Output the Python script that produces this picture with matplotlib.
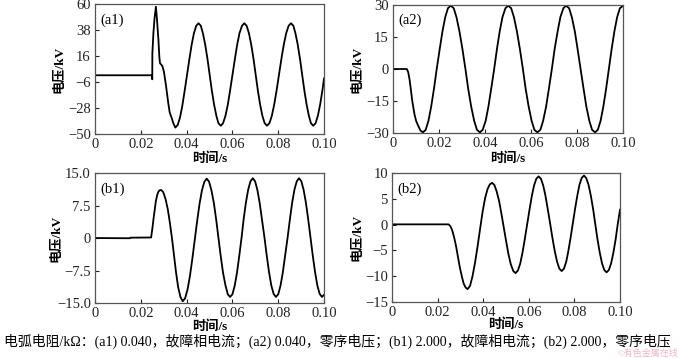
import matplotlib
matplotlib.use("Agg")
import matplotlib.pyplot as plt
import numpy as np

plt.rcParams['font.family'] = ['Liberation Serif', 'Noto Sans CJK SC']
plt.rcParams['axes.unicode_minus'] = True

# (a1) arc resistance 0.040 kOhm, faulted phase  -- time in ms, voltage in kV
a1_t = [0, 24.9, 25.0, 25.05, 25.5, 26.0, 26.6, 27.1, 27.7, 28.1, 28.4, 28.9, 29.4,
        30.1, 31.0, 32.0, 32.6, 33.0, 33.5, 34.2, 35.1,
        36.1, 37.1, 38.1, 39.1, 40.15, 41.2, 42.2, 43.2, 44.2, 45.2,
        46.2, 47.1, 48.1, 49.1, 50.05, 51.0, 52.0, 53.0, 53.9, 54.9,
        55.9, 56.96, 58.0, 59.0, 60.05, 61.1, 62.1, 63.1, 64.2, 65.2,
        66.2, 67.2, 68.2, 69.2, 70.15, 71.1, 72.1, 73.1, 74.1, 75.1,
        76.15, 77.2, 78.25, 79.3, 80.35, 81.4, 82.45, 83.5, 84.55, 85.6,
        86.6, 87.5, 88.5, 89.5, 90.45, 91.4, 92.4, 93.4, 94.3, 95.3,
        96.3, 97.3, 98.3, 99.3, 100.0]
a1_v = [-0.3, -0.3, -3.7, 18.3, 35.2, 48.0, 57.7, 46.0, 29.5, 15.0, 9.8, 8.8, 7.5,
        2.7, -9.0, -24.0, -31.5, -33.9, -36.5, -40.9, -44.6,
        -42.4, -36.2, -26.4, -14.1, -0.45, 13.2, 25.5, 35.3, 41.5, 43.7,
        41.6, 35.4, 25.8, 13.7, 0.35, -13.0, -25.1, -34.7, -40.9, -43.0,
        -40.9, -34.7, -25.1, -13.0, 0.35, 13.7, 25.8, 35.4, 41.6, 43.7,
        41.6, 35.4, 25.8, 13.7, 0.35, -13.0, -25.1, -34.7, -40.9, -43.0,
        -40.9, -34.7, -25.1, -13.0, 0.35, 13.7, 25.8, 35.4, 41.6, 43.7,
        41.6, 35.4, 25.8, 13.7, 0.35, -13.0, -25.1, -34.7, -40.9, -43.0,
        -40.9, -34.7, -25.1, -13.0, -3.0]

# (a2) arc resistance 0.040 kOhm, zero-sequence voltage
a2_t = [0, 6.0, 6.6, 7.2, 7.8, 8.3, 8.9, 9.4, 10.1, 10.9, 11.9, 13.0,
        14.2, 15.4, 16.6, 17.8, 19.0, 20.3, 21.5, 22.7, 23.9, 25.1,
        26.4, 27.6, 28.9, 30.2, 31.5, 32.7, 34.0, 35.3, 36.5, 37.8,
        39.0, 40.3, 41.5, 42.7, 44.0, 45.2, 46.4, 47.6, 48.9, 50.1,
        51.4, 52.6, 53.9, 55.2, 56.5, 57.7, 59.0, 60.3, 61.5, 62.8,
        64.1, 65.3, 66.6, 67.8, 69.1, 70.3, 71.6, 72.8, 74.1, 75.3,
        76.6, 77.8, 79.1, 80.3, 81.6, 82.9, 84.1, 85.4, 86.6, 87.9,
        89.1, 90.3, 91.5, 92.7, 93.9, 95.1, 96.3, 97.5, 98.7, 100.0]
a2_v = [0, 0, -1.5, -5.0, -10.0, -14.5, -18.5, -21.6, -24.5, -26.5, -28.8, -29.7,
        -28.5, -24.3, -17.6, -9.3, 0, 9.3, 17.6, 24.3, 28.5, 29.7,
        28.5, 24.3, 17.6, 9.3, 0, -9.3, -17.6, -24.3, -28.5, -29.7,
        -28.5, -24.3, -17.6, -9.3, 0, 9.3, 17.6, 24.3, 28.5, 29.7,
        28.5, 24.3, 17.6, 9.3, 0, -9.3, -17.6, -24.3, -28.5, -29.7,
        -28.5, -24.3, -17.6, -9.3, 0, 9.3, 17.6, 24.3, 28.5, 29.7,
        28.5, 24.3, 17.6, 9.3, 0, -9.3, -17.6, -24.3, -28.5, -29.7,
        -28.5, -24.3, -17.6, -9.3, 0, 9.3, 17.6, 24.3, 28.5, 29.6]

# (b1) arc resistance 2.000 kOhm, faulted phase
b1_t = [0, 5.0, 10.0, 15.2, 15.5, 24.5, 25.0, 25.5, 26.0, 26.6, 27.2, 27.7, 28.2, 28.8,
        29.8, 30.8, 31.8, 32.7, 33.6, 34.5, 35.4, 36.3, 37.3, 38.3,
        39.35, 40.4, 41.45, 42.5, 43.55, 44.6, 45.65, 46.7, 47.75, 48.8,
        49.8, 50.8, 51.9, 52.9, 53.9, 54.9, 55.9, 57.0, 58.0, 59.0,
        60.0, 61.0, 62.0, 63.0, 64.0, 64.9, 65.9, 66.9, 67.9, 68.9,
        69.9, 70.9, 71.9, 72.9, 74.0, 75.0, 76.0, 77.0, 78.0, 79.0,
        80.0, 81.0, 82.0, 83.0, 84.1, 85.1, 86.1, 87.1, 88.1, 89.1,
        90.1, 91.1, 92.1, 93.1, 94.1, 95.1, 96.1, 97.1, 98.1, 99.1, 100.0]
b1_v = [0.0, -0.02, -0.04, -0.05, 0.08, 0.12, 2.0, 4.2, 6.2, 8.6, 10.0, 10.7, 11.0, 11.1,
        10.6, 9.0, 6.6, 3.5, 0.0, -4.0, -8.0, -11.3, -13.6, -14.6,
        -13.9, -11.9, -8.8, -4.8, -0.45, 3.9, 7.9, 11.0, 13.0, 13.7,
        13.0, 11.1, 8.1, 4.3, 0.05, -4.2, -8.0, -11.0, -13.0, -13.6,
        -13.0, -11.0, -8.0, -4.1, 0.1, 4.3, 8.2, 11.2, 13.1, 13.8,
        13.1, 11.1, 8.1, 4.3, 0.1, -4.1, -7.9, -11.0, -12.9, -13.6,
        -13.0, -11.0, -8.0, -4.1, 0.1, 4.3, 8.2, 11.2, 13.1, 13.8,
        13.1, 11.1, 8.1, 4.3, 0.1, -4.1, -7.9, -11.0, -12.9, -13.6, -13.1]

# (b2) arc resistance 2.000 kOhm, zero-sequence voltage
b2_t = [0, 24.8, 25.6, 26.4, 27.2, 28.1, 28.9, 29.7, 30.6, 31.4, 32.3, 33.1,
        34.2, 35.3, 36.4, 37.5, 38.6, 39.7, 40.8, 41.9, 42.9, 43.9,
        44.9, 45.9, 47.0, 48.0, 49.05, 50.1, 51.1, 52.1, 53.2, 54.2,
        55.2, 56.2, 57.2, 58.2, 59.25, 60.3, 61.3, 62.3, 63.3, 64.3,
        65.3, 66.3, 67.3, 68.3, 69.35, 70.4, 71.4, 72.4, 73.4, 74.4,
        75.4, 76.4, 77.3, 78.3, 79.3, 80.3, 81.3, 82.2, 83.2, 84.2,
        85.2, 86.2, 87.2, 88.2, 89.15, 90.1, 91.1, 92.1, 93.1, 94.1,
        95.1, 96.1, 97.1, 98.1, 99.0, 100.0]
b2_v = [0.05, 0.05, -0.3, -1.1, -2.4, -4.2, -6.2, -8.2, -10.0, -11.4, -12.2, -12.5,
        -11.9, -10.0, -7.4, -4.3, -0.9, 2.4, 5.1, 6.9, 7.8, 8.1,
        7.67, 6.43, 4.5, 2.05, -0.65, -3.35, -5.8, -7.7, -9.0, -9.4,
        -8.9, -7.6, -5.5, -2.9, 0.0, 2.9, 5.5, 7.6, 8.9, 9.35,
        8.9, 7.6, 5.6, 3.0, 0.2, -2.7, -5.2, -7.2, -8.55, -9.0,
        -8.55, -7.2, -5.2, -2.6, 0.25, 3.1, 5.7, 7.7, 9.05, 9.5,
        9.0, 7.7, 5.6, 3.0, 0.1, -2.8, -5.4, -7.5, -8.8, -9.25,
        -8.8, -7.5, -5.4, -2.8, 0.1, 2.9]

x_ticks = [0, 0.02, 0.04, 0.06, 0.08, 0.10]
x_labels = ['0', '0.02', '0.04', '0.06', '0.08', '0.10']

a1_ticks = [-50, -28, -6, 16, 38, 60]
a1_labels = ['\u221250', '\u221228', '\u22126', '16', '38', '60']
a2_ticks = [-30, -15, 0, 15, 30]
a2_labels = ['\u221230', '\u221215', '0', '15', '30']
b1_ticks = [-15, -7.5, 0, 7.5, 15]
b1_labels = ['\u221215.0', '\u22127.5', '0', '7.5', '15.0']
b2_ticks = [-15, -10, -5, 0, 5, 10]
b2_labels = ['\u221215', '\u221210', '\u22125', '0', '5', '10']

caption = ('电弧电阻/kΩ：(a1) 0.040，故障相电流；(a2) 0.040，零序电压；'
           '(b1) 2.000，故障相电流；(b2) 2.000，零序电压')

fig = plt.figure(figsize=(6.8, 3.58), dpi=100)

panels = [
    ([0.1397, 0.6257, 0.3368, 0.3631], a1_t, a1_v, a1_ticks, a1_labels, '(a1)', -0.127, -0.145),
    ([0.5780, 0.6285, 0.3380, 0.3575], a2_t, a2_v, a2_ticks, a2_labels, '(a2)', -0.13, -0.15),
    ([0.1397, 0.1536, 0.3368, 0.3631], b1_t, b1_v, b1_ticks, b1_labels, '(b1)', -0.14, -0.13),
    ([0.5765, 0.1564, 0.3353, 0.3603], b2_t, b2_v, b2_ticks, b2_labels, '(b2)', -0.127, -0.13),
]

for rect, t, v, yt, yl, tag, ylx, xly in panels:
    ax = fig.add_axes(rect)
    ax.plot(np.array(t) / 1000.0, v, color='black', lw=1.3)
    ax.set_xlim(0, 0.10)
    ax.set_ylim(yt[0], yt[-1])
    ax.set_xticks(x_ticks)
    ax.set_xticklabels(x_labels)
    ax.set_yticks(yt)
    ax.set_yticklabels(yl)
    ax.tick_params(direction='in', length=3, width=0.8, labelsize=10.5, pad=3,
                   colors='#222222')
    for s in ax.spines.values():
        s.set_color('#555555')
        s.set_linewidth(0.9)
    ax.text(0.025, 0.93, tag, transform=ax.transAxes, fontsize=10.5, va='top', ha='left')
    ax.set_ylabel('电压/kV', fontsize=9.5, fontweight='bold')
    ax.yaxis.set_label_coords(ylx, 0.5)
    ax.set_xlabel('时间/s', fontsize=9.5, fontweight='bold')
    ax.xaxis.set_label_coords(0.5, xly)

fig.text(0.006, 0.045, caption, fontsize=10, ha='left', va='center')
fig.text(0.998, 0.012, '©有色金属在线', fontsize=6.5, ha='right', va='center',
         color='#f2b8c6')

fig.savefig('out.png', dpi=100)
